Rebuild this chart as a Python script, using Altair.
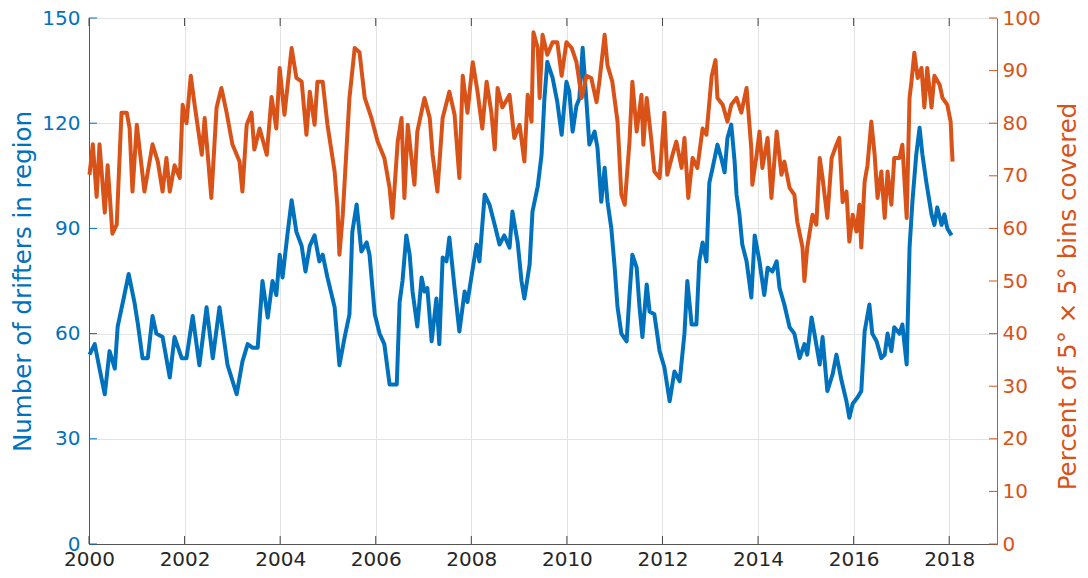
import altair as alt
import pandas as pd

# ---- data ----
blue_years = [2000.01, 2000.12, 2000.22, 2000.33, 2000.43, 2000.54, 2000.60, 2000.74, 2000.83, 2000.95,
              2001.02, 2001.12, 2001.23, 2001.33, 2001.41, 2001.54, 2001.69, 2001.79, 2001.94, 2002.04,
              2002.17, 2002.31, 2002.46, 2002.59, 2002.73, 2002.90, 2003.09, 2003.21, 2003.32, 2003.42,
              2003.53, 2003.63, 2003.74, 2003.84, 2003.92, 2003.99, 2004.05, 2004.15, 2004.24, 2004.34,
              2004.45, 2004.53, 2004.62, 2004.72, 2004.82, 2004.89, 2004.99, 2005.14, 2005.24, 2005.35,
              2005.45, 2005.51, 2005.60, 2005.70, 2005.81, 2005.87, 2005.98, 2006.08, 2006.18, 2006.29,
              2006.44, 2006.50, 2006.56, 2006.64, 2006.71, 2006.77, 2006.87, 2006.96, 2007.02, 2007.08,
              2007.17, 2007.27, 2007.33, 2007.40, 2007.48, 2007.54, 2007.65, 2007.75, 2007.86, 2007.92,
              2008.00, 2008.11, 2008.17, 2008.28, 2008.38, 2008.49, 2008.59, 2008.69, 2008.80, 2008.86,
              2008.97, 2009.05, 2009.11, 2009.22, 2009.28, 2009.39, 2009.47, 2009.53, 2009.59, 2009.70,
              2009.80, 2009.89, 2009.99, 2010.05, 2010.12, 2010.20, 2010.26, 2010.33, 2010.41, 2010.47,
              2010.58, 2010.64, 2010.72, 2010.79, 2010.85, 2010.93, 2011.00, 2011.06, 2011.14, 2011.25,
              2011.31, 2011.37, 2011.46, 2011.52, 2011.58, 2011.67, 2011.73, 2011.83, 2011.94, 2012.04,
              2012.15, 2012.25, 2012.36, 2012.46, 2012.52, 2012.61, 2012.71, 2012.77, 2012.84, 2012.92,
              2012.98, 2013.05, 2013.15, 2013.23, 2013.30, 2013.36, 2013.44, 2013.51, 2013.55, 2013.61,
              2013.67, 2013.76, 2013.86, 2013.93, 2014.03, 2014.13, 2014.20, 2014.30, 2014.39, 2014.45,
              2014.55, 2014.66, 2014.76, 2014.87, 2014.97, 2015.03, 2015.12, 2015.18, 2015.29, 2015.35,
              2015.45, 2015.56, 2015.64, 2015.75, 2015.85, 2015.91, 2015.98, 2016.08, 2016.16, 2016.23,
              2016.33, 2016.39, 2016.48, 2016.58, 2016.65, 2016.71, 2016.79, 2016.85, 2016.96, 2017.02,
              2017.11, 2017.17, 2017.23, 2017.31, 2017.38, 2017.44, 2017.52, 2017.63, 2017.69, 2017.75,
              2017.84, 2017.90, 2017.96, 2018.05]
blue_values = [54, 57, 50, 42.7, 55, 50, 62, 71, 77, 69,
               63, 53, 53, 65, 60, 59, 47.5, 59, 53, 53,
               65, 51, 67.5, 53, 67.5, 51, 42.7, 52, 57, 56,
               56, 75, 64.6, 75, 71, 82.5, 76, 88, 98, 89,
               85, 77.7, 85, 88, 80.6, 82.5, 76, 67.5, 51, 59,
               65.5, 89, 96.8, 83.4, 86, 82.5, 65.5, 60, 57, 45.5,
               45.5, 69, 75, 88, 82.5, 72, 62, 76, 72, 73,
               57.8, 70, 57, 81.7, 80.6, 87.4, 73, 60.6, 72, 69,
               76, 85.4, 80.6, 99.6, 96.8, 91, 85.4, 88, 84.5, 94.8,
               86, 75, 70, 79.7, 94.8, 102, 111, 127, 137.5, 133,
               126, 116.7, 131.8, 129, 117.6, 125, 127, 141.5, 126, 113.9,
               117.6, 113, 97.6, 107.3, 97.6, 90, 78.8, 67.5, 60, 57.8,
               71, 82.5, 78.8, 67.5, 59, 74, 66.3, 65.5, 55, 50.4,
               40.7, 49.2, 46.4, 60, 75, 62.6, 62.6, 80.6, 86, 80.6,
               103, 107.3, 113.9, 110, 106, 115.8, 119.6, 109, 99.6, 94,
               85.4, 80.6, 70.3, 88, 80.6, 71, 78.8, 77.7, 80.6, 73,
               68.3, 61.8, 60, 53, 57, 54, 64.6, 60, 51.2, 59,
               43.6, 48.4, 54, 46.4, 40.7, 36, 40, 41.8, 43.6, 60.6,
               68.3, 60, 57.8, 53, 54, 60, 55, 61.8, 60, 62.6,
               51.2, 84.5, 97.6, 111, 118.7, 111, 103.3, 94, 91, 96,
               91, 94, 90, 88]

orange_years = [2000.01, 2000.08, 2000.16, 2000.22, 2000.33, 2000.39, 2000.49, 2000.58, 2000.68, 2000.79,
                2000.85, 2000.91, 2001.00, 2001.06, 2001.16, 2001.33, 2001.44, 2001.54, 2001.62, 2001.69,
                2001.79, 2001.90, 2001.96, 2002.04, 2002.13, 2002.21, 2002.36, 2002.42, 2002.56, 2002.67,
                2002.77, 2002.88, 2003.00, 2003.15, 2003.21, 2003.30, 2003.40, 2003.46, 2003.57, 2003.72,
                2003.82, 2003.92, 2003.99, 2004.09, 2004.24, 2004.34, 2004.45, 2004.55, 2004.62, 2004.72,
                2004.78, 2004.89, 2004.99, 2005.14, 2005.20, 2005.24, 2005.31, 2005.45, 2005.56, 2005.66,
                2005.77, 2005.91, 2006.04, 2006.18, 2006.29, 2006.35, 2006.46, 2006.54, 2006.60, 2006.67,
                2006.81, 2006.87, 2007.02, 2007.13, 2007.19, 2007.29, 2007.40, 2007.54, 2007.65, 2007.75,
                2007.82, 2007.92, 2008.03, 2008.13, 2008.23, 2008.32, 2008.42, 2008.49, 2008.55, 2008.65,
                2008.80, 2008.90, 2009.01, 2009.11, 2009.18, 2009.26, 2009.30, 2009.39, 2009.43, 2009.49,
                2009.59, 2009.70, 2009.80, 2009.89, 2009.99, 2010.10, 2010.20, 2010.31, 2010.41, 2010.51,
                2010.62, 2010.68, 2010.79, 2010.85, 2010.95, 2011.06, 2011.14, 2011.21, 2011.31, 2011.37,
                2011.46, 2011.56, 2011.60, 2011.67, 2011.77, 2011.83, 2011.94, 2012.04, 2012.10, 2012.21,
                2012.29, 2012.40, 2012.46, 2012.54, 2012.63, 2012.73, 2012.84, 2012.92, 2013.03, 2013.11,
                2013.15, 2013.26, 2013.36, 2013.44, 2013.55, 2013.65, 2013.76, 2013.86, 2013.88, 2013.97,
                2014.03, 2014.09, 2014.20, 2014.28, 2014.39, 2014.49, 2014.55, 2014.66, 2014.76, 2014.82,
                2014.93, 2014.97, 2015.03, 2015.14, 2015.22, 2015.29, 2015.35, 2015.45, 2015.54, 2015.64,
                2015.70, 2015.77, 2015.85, 2015.91, 2015.98, 2016.06, 2016.12, 2016.16, 2016.23, 2016.29,
                2016.37, 2016.44, 2016.50, 2016.58, 2016.65, 2016.71, 2016.79, 2016.85, 2016.96, 2017.02,
                2017.11, 2017.17, 2017.21, 2017.27, 2017.34, 2017.42, 2017.48, 2017.54, 2017.63, 2017.69,
                2017.80, 2017.86, 2017.96, 2018.03, 2018.07]
orange_values = [70.2, 76, 66, 76, 63, 72, 59, 60.7, 82, 82,
                 79, 67, 79.7, 75, 67, 76, 72.7, 67, 73.4, 67,
                 72, 69.6, 83.5, 80, 89, 83.5, 74, 81, 65.8, 83,
                 86.7, 82, 76, 72.7, 67, 79.7, 82, 75, 79, 74,
                 85, 79, 90.5, 81.6, 94.3, 88.6, 87.9, 77.8, 86, 79.7,
                 87.9, 87.9, 79.7, 70.8, 64, 55, 62.6, 84.8, 94.3, 93.5,
                 84.8, 81, 76.5, 73.4, 67.7, 62, 76.5, 81, 65.8, 79.7,
                 68.3, 78.4, 84.8, 81, 74, 67, 81, 86, 81.6, 69.6,
                 89, 82, 91.6, 86, 79, 87.9, 82, 75, 86.7, 83,
                 85.4, 77.2, 79.7, 72.7, 85.4, 80.3, 97.3, 94.3, 84.8, 96.8,
                 93, 95.4, 95.4, 89, 95.4, 94.3, 91.6, 84.8, 89, 88.6,
                 84, 87.9, 96.8, 91, 87.9, 80.3, 66.4, 64.5, 76.5, 87.9,
                 78.4, 85.4, 75.9, 84.8, 76.5, 70.8, 69.6, 82, 70.2, 74,
                 76.5, 71.5, 77.2, 65.8, 73.4, 71.5, 79, 77.8, 89, 92,
                 84.8, 83.5, 80.3, 83.5, 84.8, 82, 86.7, 75, 68.3, 74,
                 78.4, 71.5, 77.2, 65.8, 78.4, 70.2, 72.7, 67.7, 66.4, 61.3,
                 56.4, 50, 56.4, 62.6, 60.7, 73.4, 69.6, 62, 73.4, 75.9,
                 77.2, 65, 67, 57.5, 62.6, 59.4, 64.5, 56.4, 68.9, 72,
                 80.3, 74, 65.8, 70.8, 62, 70.8, 64.5, 73.4, 73.4, 75.9,
                 62, 84.8, 87.9, 93.4, 88.6, 90.5, 83, 90.5, 83, 89,
                 87.3, 84.8, 83.5, 80.3, 72.7]

x_ticks = [2000, 2002, 2004, 2006, 2008, 2010, 2012, 2014, 2016, 2018]
left_ticks = [0, 30, 60, 90, 120, 150]
right_ticks = [0, 10, 20, 30, 40, 50, 60, 70, 80, 90, 100]

left_title = "Number of drifters in region"
right_title = "Percent of 5° × 5° bins covered"

BLUE = "#0072BD"
ORANGE = "#D95319"
FONT = "DejaVu Sans"
W, H = 908, 526

df_blue = pd.DataFrame({"year": blue_years, "value": blue_values})
df_orange = pd.DataFrame({"year": orange_years, "value": orange_values})
df_xt = pd.DataFrame({"year": x_ticks})
df_lt = pd.DataFrame({"value": left_ticks})
df_rt = pd.DataFrame({"value": right_ticks})

x_scale = alt.Scale(domain=[2000, 2019], nice=False, zero=False)
x_axis = alt.Axis(values=x_ticks, format="d", title=None, grid=True, gridColor="#e3e3e3",
                  tickSize=0, labelFontSize=20, labelColor="#262626", labelPadding=5,
                  labelFlush=False, labelOverlap=False,
                  domainColor="#555555", labelFont=FONT)

blue_line = alt.Chart(df_blue).mark_line(color=BLUE, strokeWidth=4, strokeJoin="round").encode(
    x=alt.X("year:Q", scale=x_scale, axis=x_axis),
    y=alt.Y("value:Q", scale=alt.Scale(domain=[0, 150], nice=False),
            axis=alt.Axis(values=left_ticks, title=left_title, orient="left", grid=True,
                          gridColor="#e3e3e3", tickSize=0, labelFontSize=20, labelColor=BLUE,
                          labelPadding=9, labelFlush=False, domainColor=BLUE, labelFont=FONT,
                          titleFont=FONT, titleFontSize=24.5, titleFontWeight="normal",
                          titleColor=BLUE, titleAngle=270, titleX=-66, titleY=263,
                          titleAlign="center", titleBaseline="middle")),
)
left_tick_rules = alt.Chart(df_lt).mark_rule(color=BLUE, strokeWidth=1).encode(
    y="value:Q", x=alt.value(0), x2=alt.value(8))
top_ticks = alt.Chart(df_xt).mark_rule(color="#444444", strokeWidth=1).encode(
    x=alt.X("year:Q", scale=x_scale), y=alt.value(0), y2=alt.value(8))
bottom_ticks = alt.Chart(df_xt).mark_rule(color="#444444", strokeWidth=1).encode(
    x=alt.X("year:Q", scale=x_scale), y=alt.value(H - 8), y2=alt.value(H))

orange_line = alt.Chart(df_orange).mark_line(color=ORANGE, strokeWidth=4, strokeJoin="round").encode(
    x=alt.X("year:Q", scale=x_scale, axis=x_axis),
    y=alt.Y("value:Q", scale=alt.Scale(domain=[0, 100], nice=False),
            axis=alt.Axis(values=right_ticks, title=right_title, orient="right", grid=False,
                          tickSize=0, labelFontSize=20, labelColor=ORANGE, labelPadding=5,
                          labelFlush=False, domainColor=ORANGE, labelFont=FONT, titleFont=FONT,
                          titleFontSize=24.5, titleFontWeight="normal", titleColor=ORANGE,
                          titleAngle=270, titleX=71, titleY=278, titleAlign="center",
                          titleBaseline="middle")),
)
right_tick_rules = alt.Chart(df_rt).mark_rule(color=ORANGE, strokeWidth=1).encode(
    y="value:Q", x=alt.value(W - 8), x2=alt.value(W))

left_layer = alt.layer(blue_line, left_tick_rules, top_ticks, bottom_ticks)
right_layer = alt.layer(orange_line, right_tick_rules)

chart = alt.layer(left_layer, right_layer).resolve_scale(y="independent").properties(
    width=W, height=H,
    autosize=alt.AutoSizeParams(type="none"),
    padding={"left": 81, "top": 10, "right": 83, "bottom": 26},
    background="white",
).configure_view(stroke="#888888", strokeWidth=1)

chart.save("out.html", embed_options={"renderer": "svg", "actions": False})
